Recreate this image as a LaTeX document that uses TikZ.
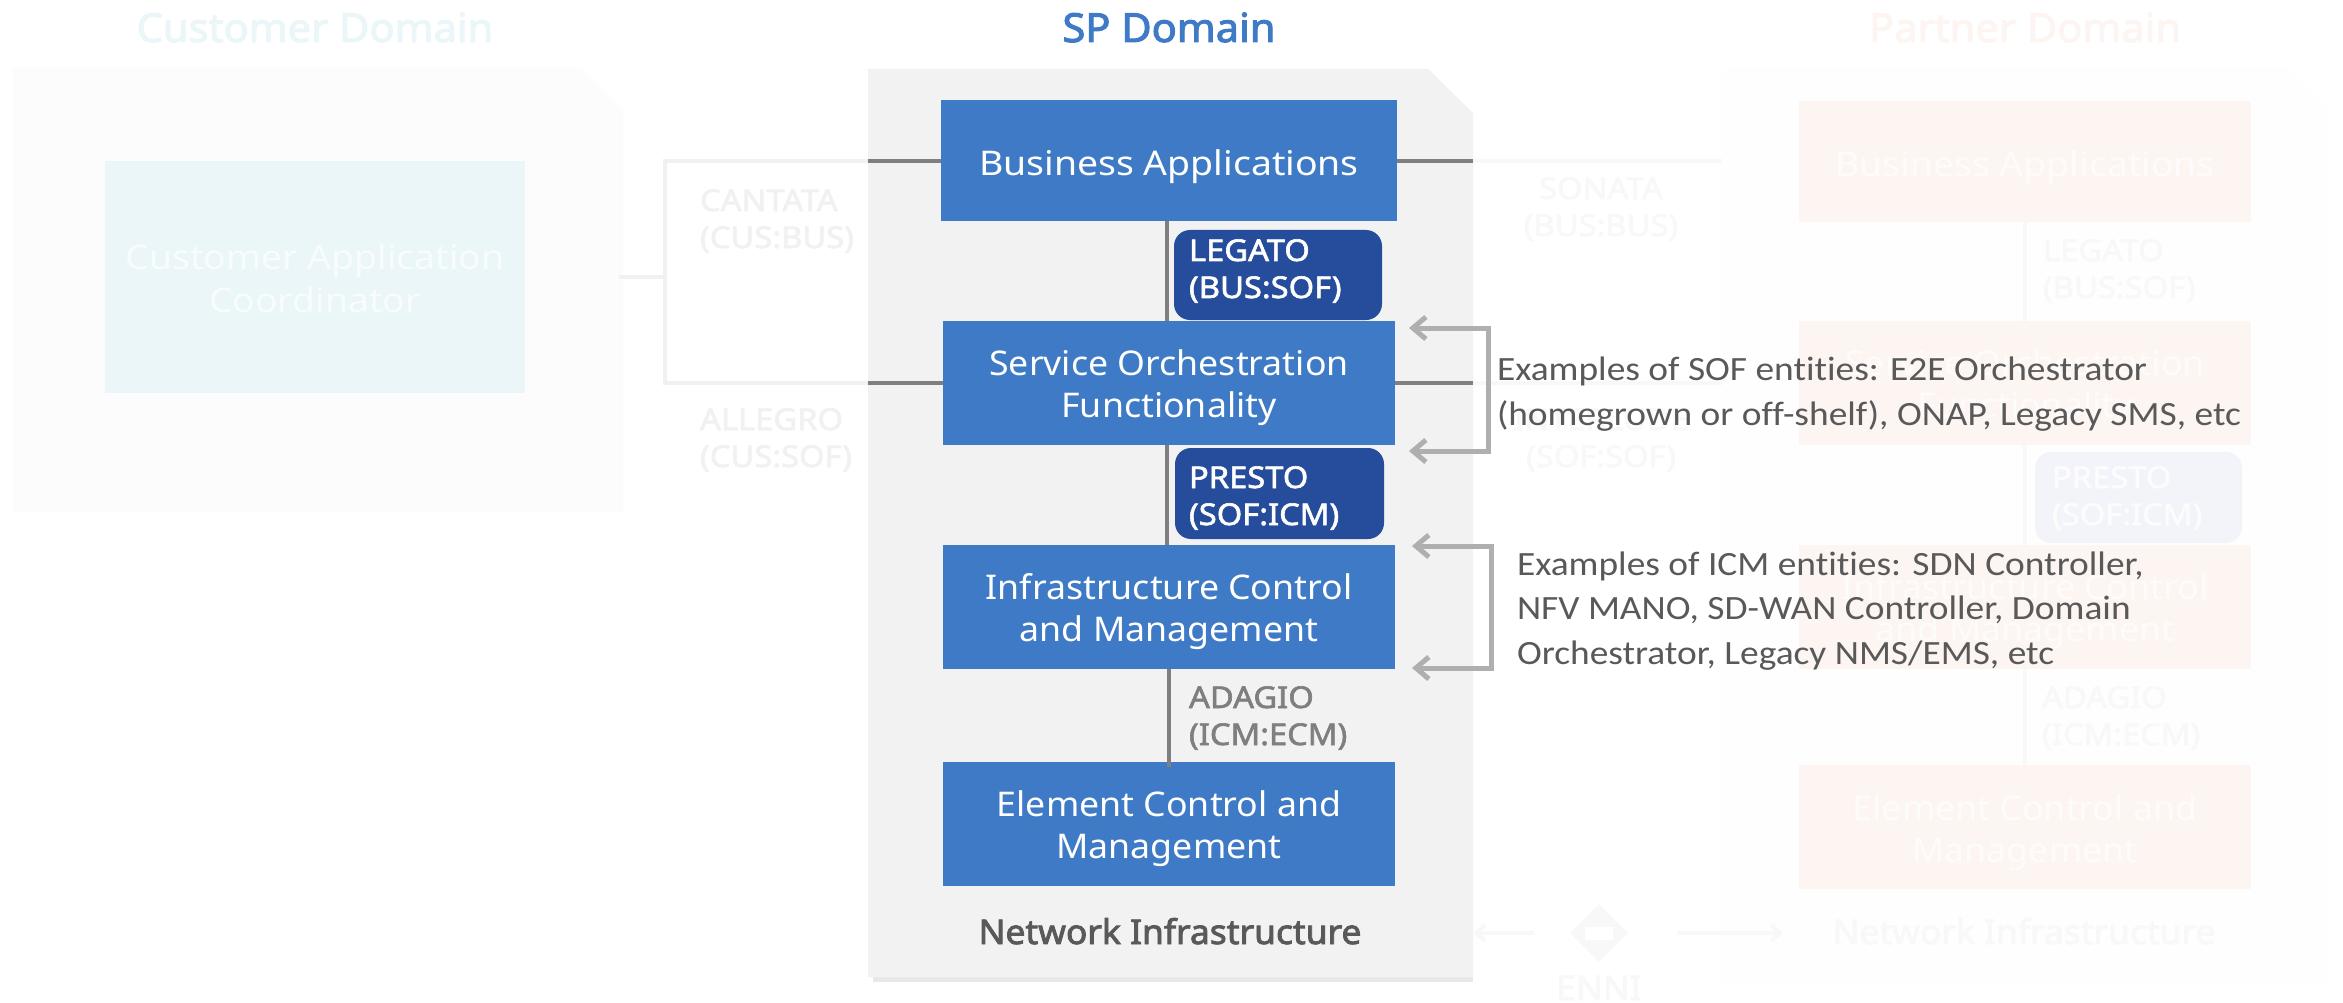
\documentclass[tikz,border=0pt]{standalone}
\usepackage{fontspec}
\usetikzlibrary{arrows.meta,shapes.geometric}
\setmainfont{Noto Sans}
\newfontfamily\nsemi{Noto Sans}[FakeStretch=1.09,FakeBold=2]
\newfontfamily\ntitle{Noto Sans}[FakeStretch=1.04,FakeBold=2.5]
\newfontfamily\nreg{Noto Sans}[FakeStretch=1.05]
\newfontfamily\nwide{Noto Sans}[FakeStretch=1.10]
\newfontfamily\ncal{Carlito}[FakeStretch=1.10,Ligatures=NoCommon]
\definecolor{spblue}{HTML}{3E7AC6}
\definecolor{navy}{HTML}{264D9C}
\definecolor{spgrey}{HTML}{F2F2F2}
\definecolor{rulegrey}{HTML}{7F7F7F}
\definecolor{brk}{HTML}{AFAFAF}
\definecolor{ink}{HTML}{595959}
\definecolor{custbg}{HTML}{EAF6F8}
\definecolor{partbg}{HTML}{FDF5F2}
\definecolor{faint}{HTML}{F8F8F8}
\definecolor{faintb}{HTML}{F1F1F1}
\tikzset{
 blockbox/.style={draw=none,inner sep=0pt,outer sep=0pt,anchor=north west},
 boxtext/.style={inner sep=0pt,outer sep=0pt,anchor=base,align=center,font=\nreg\fontsize{34}{42}\selectfont},
 widetext/.style={boxtext,font=\nwide\fontsize{34}{42}\selectfont},
 tagtext/.style={inner sep=0pt,outer sep=0pt,anchor=base west,align=left,font=\nsemi\fontsize{30}{37}\selectfont},
 domaintitle/.style={inner sep=0pt,outer sep=0pt,anchor=base,font=\ntitle\fontsize{40}{48}\selectfont},
 infra/.style={inner sep=0pt,outer sep=0pt,anchor=base,font=\ntitle\fontsize{34}{42}\selectfont},
 note/.style={inner sep=0pt,outer sep=0pt,anchor=base west,align=left,text=ink,font=\ncal\fontsize{34}{44.5}\selectfont},
 wire/.style={line width=4pt,line cap=butt},
 bracketline/.style={line width=5pt,draw=brk,{Straight Barb[length=13pt,width=22pt]}-{Straight Barb[length=13pt,width=22pt]}},
}
\begin{document}
\begin{tikzpicture}[x=1pt,y=-1pt]
\useasboundingbox (0,0) rectangle (2343,1003);
\fill[white] (0,0) rectangle (2343,1003);

% ---- customer (faded)
\fill[white!99!black] (13,68) -- (580,68) -- (623,110) -- (623,512) -- (13,512) -- cycle;
\node[blockbox,fill=custbg,minimum width=420pt,minimum height=232pt] (cac) at (105,161) {};
\node[widetext,text=white!70!custbg] (cactext) at (315,312) {Customer Application\\[1pt]Coordinator};
\node[domaintitle,text=custbg] (custtitle) at (315,42) {Customer Domain};

% ---- partner (faded)
\fill[white!99.5!black] (1722,68) -- (2285,68) -- (2327,110) -- (2327,982) -- (1722,982) -- cycle;
\node[blockbox,fill=partbg,minimum width=452pt,minimum height=121pt] (pba) at (1799,101) {};
\node[blockbox,fill=partbg,minimum width=452pt,minimum height=124pt] (psof) at (1799,321) {};
\node[blockbox,fill=partbg,minimum width=452pt,minimum height=124pt] (picm) at (1799,545) {};
\node[blockbox,fill=partbg,minimum width=452pt,minimum height=124pt] (pecm) at (1799,765) {};
\coordinate (pcx) at (2025,0);
\draw[wire,draw=faint] (pba.south -| pcx) -- (psof.north -| pcx);
\draw[wire,draw=faint] (psof.south -| pcx) -- (picm.north -| pcx);
\draw[wire,draw=faint] (picm.south -| pcx) -- (pecm.north -| pcx);
\node[widetext,text=white!70!partbg] (pbat) at (2025,177) {Business Applications};
\node[boxtext,text=white!70!partbg] (psoft) at (2025,417) {Service Orchestration\\Functionality};
\node[boxtext,text=white!70!partbg] (picmt) at (2025,641) {Infrastructure Control\\and Management};
\node[boxtext,text=white!70!partbg] (pecmt) at (2025,862) {Element Control and\\Management};
\node[domaintitle,text=partbg] (parttitle) at (2025,42) {Partner Domain};
\node[tagtext,text=faint] (plegato) at (2043,298) {LEGATO\\(BUS:SOF)};
\node[blockbox,rounded corners=16pt,fill=navy!6,minimum width=207pt,minimum height=91pt] (ppresto) at (2035,452) {};
\node[tagtext,text=white!75!navy!6] (pprestot) at (2052,525) {PRESTO\\(SOF:ICM)};
\node[tagtext,text=faint] (padagio) at (2042,745) {ADAGIO\\(ICM:ECM)};
\node[infra,text=faint] (pinfra) at (2024,944) {Network Infrastructure};

% ---- faded connectors and labels between domains
\coordinate (cstub) at (619,277);
\coordinate (cbr) at (665,277);
\coordinate (spl1) at (868,161);
\coordinate (spl2) at (868,383);
\coordinate (spr1) at (1473,161);
\coordinate (spr2) at (1473,383);
\coordinate (pl1) at (1722,161);
\coordinate (pl2) at (1722,383);
\draw[wire,draw=faintb] (spl1) -| (cbr) |- (spl2);
\draw[wire,draw=faintb] (cstub) -- (cbr);
\draw[wire,draw=faint] (spr1) -- (pl1);
\draw[wire,draw=faint] (spr2) -- (pl2);
\node[tagtext,text=faintb] (cantata) at (700,248) {CANTATA\\(CUS:BUS)};
\node[tagtext,text=faintb] (allegro) at (700,467) {ALLEGRO\\(CUS:SOF)};
\node[tagtext,text=faint,align=center,anchor=base] (sonata) at (1601,236) {SONATA\\(BUS:BUS)};
\node[tagtext,text=faint,align=center,anchor=base] (interlude) at (1601,467) {INTERLUDE\\(SOF:SOF)};
\node[diamond,aspect=1,fill=faint,minimum width=58pt,minimum height=58pt,inner sep=0pt] (enni) at (1599,933) {};
\node[fill=white,minimum width=28pt,minimum height=13pt,inner sep=0pt] (ennigap) at (enni.center) {};
\node[inner sep=0pt,anchor=base,text=faint,font=\ntitle\fontsize{34}{40}\selectfont] (ennit) at (1599,1000) {ENNI};
\coordinate (ea) at (1534,933);
\coordinate (eb) at (1473,933);
\coordinate (ec) at (1678,933);
\coordinate (ed) at (1783,933);
\draw[wire,draw=faint,-{Straight Barb[length=9pt,width=16pt]}] (ea) -- (eb);
\draw[wire,draw=faint,-{Straight Barb[length=9pt,width=16pt]}] (ec) -- (ed);

% ---- SP domain
\fill[black!9] (873,900) rectangle (1473,982);
\fill[spgrey] (868,69) -- (1428,69) -- (1473,113) -- (1473,977) -- (868,977) -- cycle;
\node[domaintitle,text=spblue] (sptitle) at (1169,42) {SP Domain};
\node[blockbox,fill=spblue,minimum width=456pt,minimum height=121pt] (ba) at (941,100) {};
\node[blockbox,fill=spblue,minimum width=452pt,minimum height=124pt] (sof) at (943,321) {};
\node[blockbox,fill=spblue,minimum width=452pt,minimum height=124pt] (icm) at (943,545) {};
\node[blockbox,fill=spblue,minimum width=452pt,minimum height=124pt] (ecm) at (943,762) {};
\coordinate (cxa) at (1167,0);
\coordinate (cxb) at (1169,0);
\coordinate (ecmin) at (1169,767);
\draw[wire,draw=rulegrey] (ba.south -| cxa) -- (sof.north -| cxa);
\draw[wire,draw=rulegrey] (sof.south -| cxa) -- (icm.north -| cxa);
\draw[wire,draw=rulegrey] (icm.south -| cxb) -- (ecmin);
\draw[wire,draw=rulegrey] (spl1) -- (spl1 -| ba.west);
\draw[wire,draw=rulegrey] (spr1 -| ba.east) -- (spr1);
\draw[wire,draw=rulegrey] (spl2) -- (spl2 -| sof.west);
\draw[wire,draw=rulegrey] (spr2 -| sof.east) -- (spr2);
\node[blockbox,rounded corners=16pt,fill=navy,minimum width=208pt,minimum height=90pt] (legato) at (1174,230) {};
\node[blockbox,rounded corners=16pt,fill=navy,minimum width=209pt,minimum height=91pt] (presto) at (1175,448) {};
\node[tagtext,text=white] (legatot) at (1189,298) {LEGATO\\(BUS:SOF)};
\node[tagtext,text=white] (prestot) at (1189,525) {PRESTO\\(SOF:ICM)};
\node[tagtext,text=rulegrey] (adagio) at (1189,745) {ADAGIO\\(ICM:ECM)};
\node[widetext,text=white] (bat) at (1169,176) {Business Applications};
\node[boxtext,text=white] (soft) at (1169,417) {Service Orchestration\\Functionality};
\node[boxtext,text=white] (icmt) at (1169,641) {Infrastructure Control\\and Management};
\node[boxtext,text=white] (ecmt) at (1169,858) {Element Control and\\Management};
\node[infra,text=ink] (infra) at (1170,944) {Network Infrastructure};

% ---- brackets and notes
\coordinate (s1) at (1409,328);
\coordinate (s2) at (1488,328);
\coordinate (s3) at (1488,451);
\coordinate (s4) at (1409,451);
\coordinate (i1) at (1412,546);
\coordinate (i2) at (1491,546);
\coordinate (i3) at (1491,668);
\coordinate (i4) at (1412,668);
\draw[bracketline] (s1) -- (s2) -- (s3) -- (s4);
\draw[bracketline] (i1) -- (i2) -- (i3) -- (i4);
\node[note] (sofnote) at (1497,425) {Examples of SOF entities: E2E Orchestrator\\(homegrown or off-shelf), ONAP, Legacy SMS, etc};
\node[note] (icmnote) at (1517,664) {Examples of ICM entities: SDN Controller,\\NFV MANO, SD-WAN Controller, Domain\\Orchestrator, Legacy NMS/EMS, etc};
\end{tikzpicture}
\end{document}
